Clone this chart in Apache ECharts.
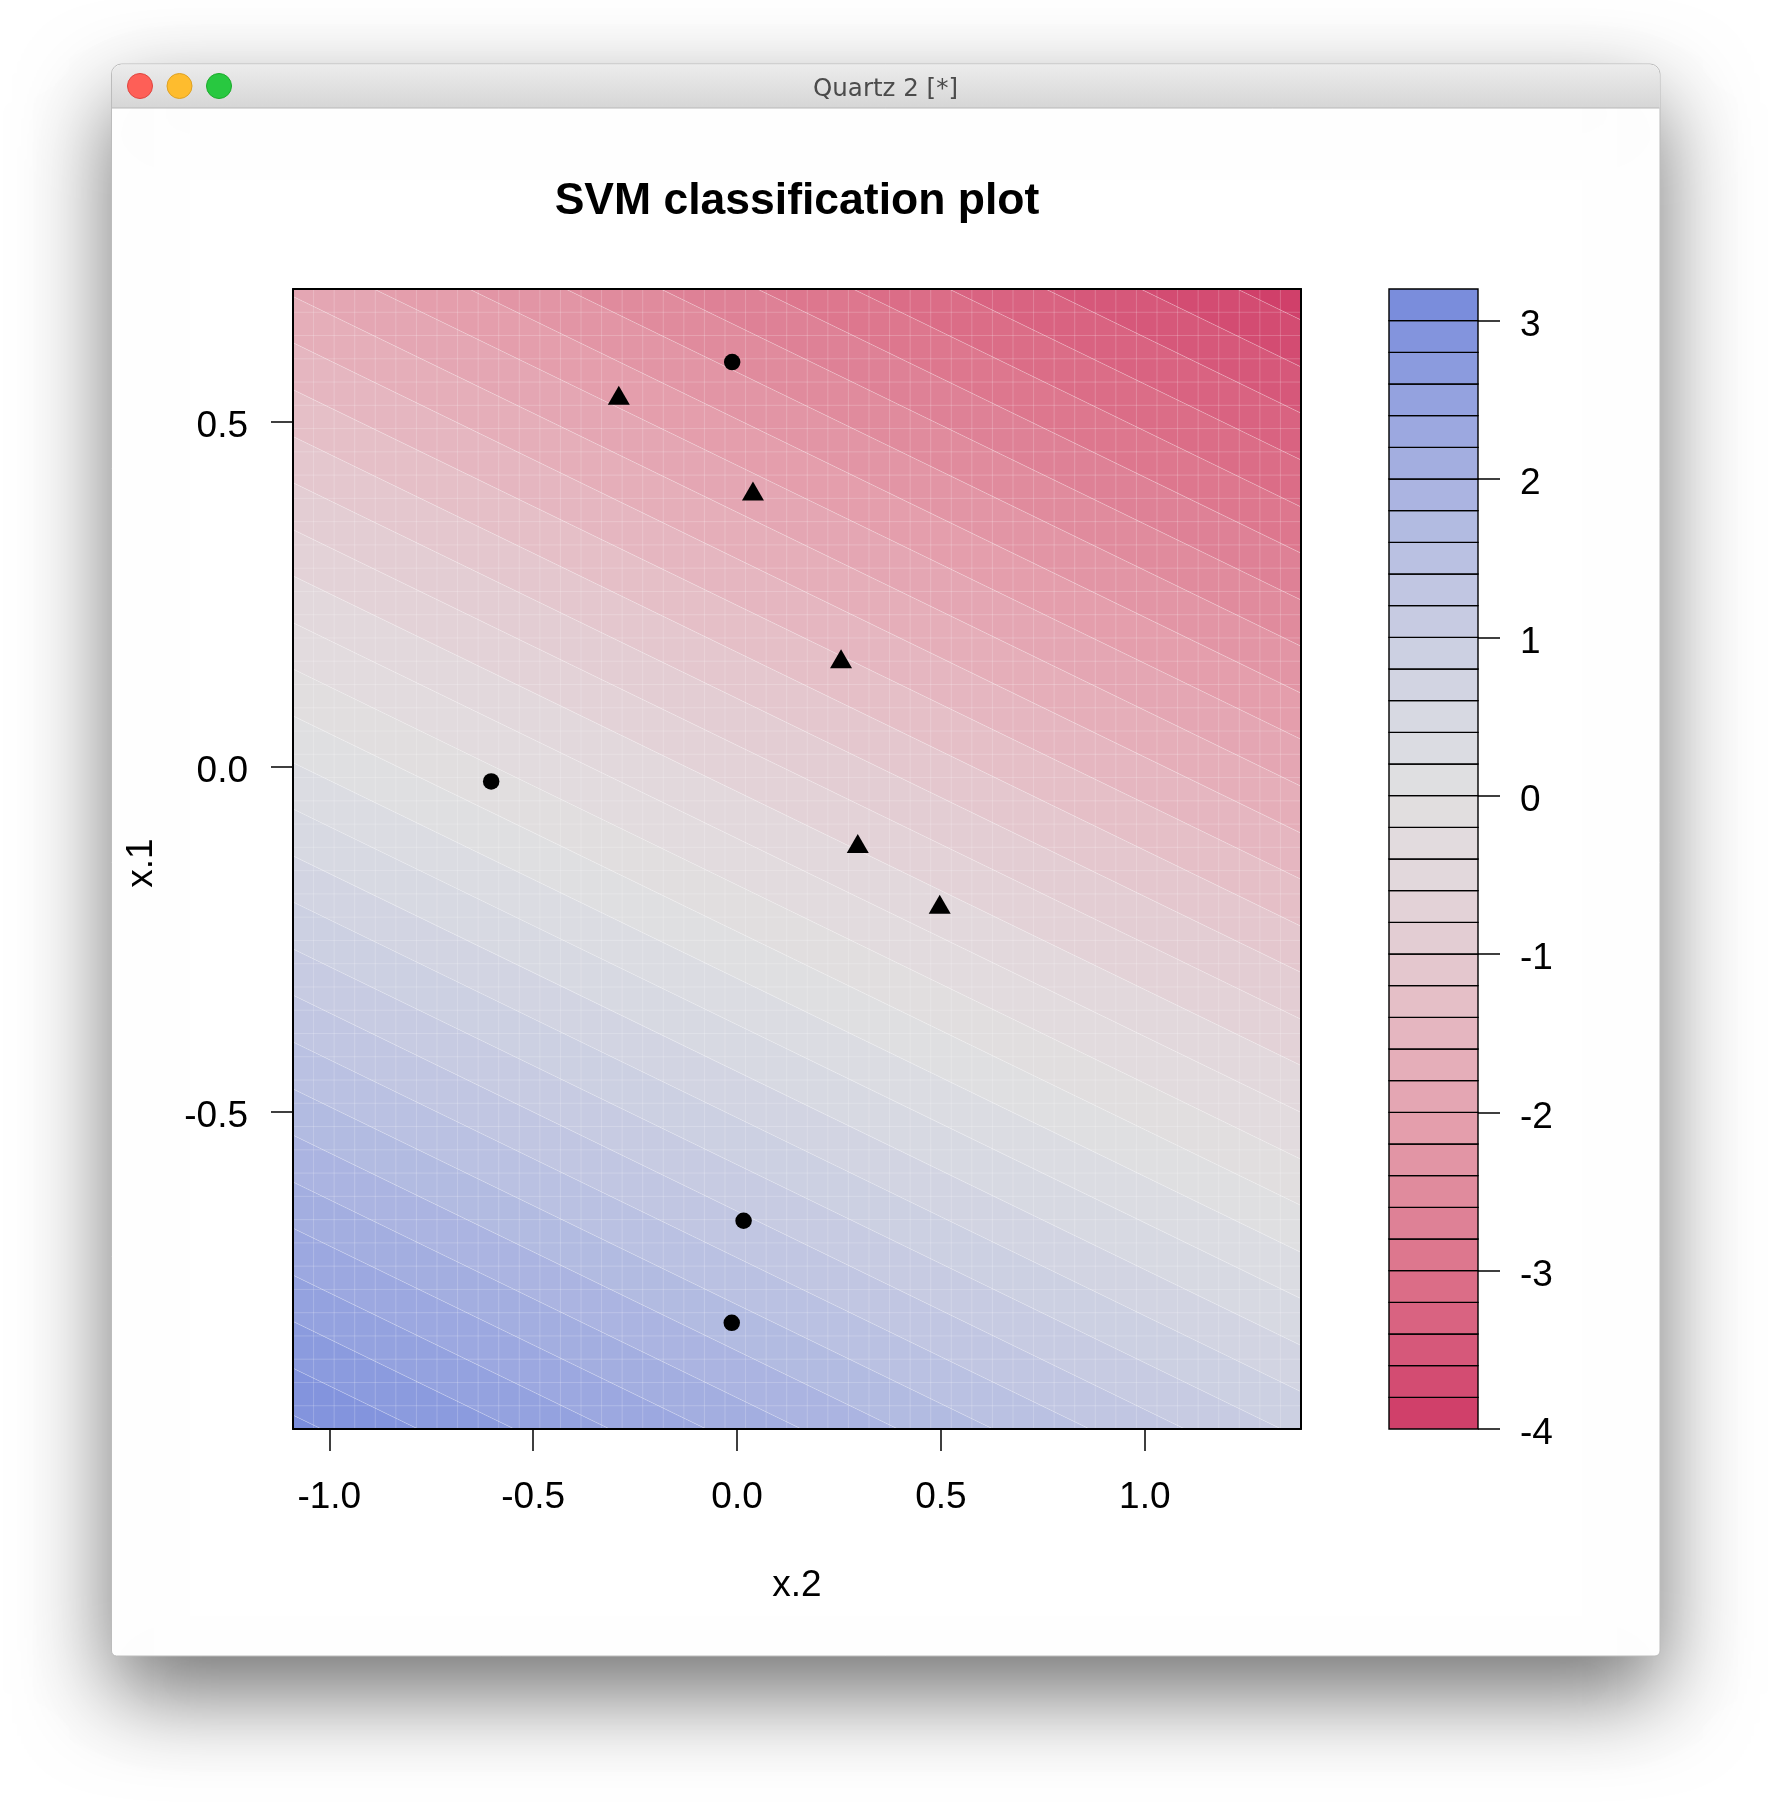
<!DOCTYPE html>
<html>
<head>
<meta charset="utf-8">
<title>SVM classification plot</title>
<script src="https://cdn.jsdelivr.net/npm/echarts@6.0.0/dist/echarts.min.js"></script>
<style>
  html, body { margin: 0; padding: 0; background: #ffffff; }
  #main { width: 1772px; height: 1816px; }
</style>
</head>
<body>
<div id="main"></div>
<script>
// plotted range of the two inputs (x.2 across, x.1 up) and the prediction grid
var x2Range = [-1.089, 1.383];
var x1Range = [-0.960, 0.693];
var gridSize = 50;

// decision value levels shown in the key
var levels = [-4.0, -3.8, -3.6, -3.4, -3.2, -3.0, -2.8, -2.6, -2.4, -2.2, -2.0, -1.8, -1.6, -1.4, -1.2,
  -1.0, -0.8, -0.6, -0.4, -0.2, 0.0, 0.2, 0.4, 0.6, 0.8, 1.0, 1.2, 1.4, 1.6, 1.8, 2.0, 2.2, 2.4,
  2.6, 2.8, 3.0, 3.2];
// x.1 where each level line meets the left edge / the right edge of the plot
var levelLeftX1 = [1.425, 1.358, 1.290, 1.223, 1.155, 1.088, 1.020, 0.952, 0.885, 0.817, 0.750, 0.682,
  0.615, 0.547, 0.479, 0.412, 0.344, 0.277, 0.209, 0.142, 0.074, 0.006, -0.061, -0.129, -0.196, -0.264,
  -0.331, -0.399, -0.467, -0.534, -0.602, -0.669, -0.737, -0.804, -0.872, -0.940, -1.007];
var levelRightX1 = [0.715, 0.648, 0.580, 0.513, 0.445, 0.377, 0.310, 0.242, 0.175, 0.107, 0.040, -0.028,
  -0.096, -0.163, -0.231, -0.298, -0.366, -0.433, -0.501, -0.569, -0.636, -0.704, -0.771, -0.839, -0.906,
  -0.974, -1.042, -1.109, -1.177, -1.244, -1.312, -1.379, -1.447, -1.515, -1.582, -1.650, -1.717];

// training points [x.2, x.1]
var circlePoints = [[-0.012, 0.587], [-0.603, -0.021], [0.016, -0.658], [-0.013, -0.806]];
var trianglePoints = [[-0.290, 0.539], [0.039, 0.400], [0.255, 0.157], [0.296, -0.111], [0.497, -0.199]];

var x2Ticks = [-1.0, -0.5, 0.0, 0.5, 1.0];
var x1Ticks = [-0.5, 0.0, 0.5];
var keyTicks = [-4, -3, -2, -1, 0, 1, 2, 3];

// red - grey - blue ramp
var colorStops = [
  [-3.9, [208, 64, 106]], [-3.5, [214, 88, 122]], [-3.1, [219, 109, 135]], [-2.5, [224, 139, 157]],
  [-2.1, [228, 158, 172]], [-1.5, [229, 182, 192]], [-1.1, [228, 199, 206]], [-0.5, [226, 216, 220]],
  [-0.1, [225, 222, 223]], [0.1, [223, 223, 225]], [0.5, [215, 217, 226]], [1.1, [199, 203, 226]],
  [1.5, [186, 193, 226]], [2.1, [163, 174, 224]], [2.5, [148, 162, 223]], [3.1, [122, 141, 220]]
];

function rampColor(v) {
  if (v <= colorStops[0][0]) return "rgb(" + colorStops[0][1].join(",") + ")";
  for (var i = 1; i < colorStops.length; i++) {
    if (v <= colorStops[i][0]) {
      var a = colorStops[i - 1], b = colorStops[i];
      var t = (v - a[0]) / (b[0] - a[0]);
      var c = [0, 1, 2].map(function (j) { return Math.round(a[1][j] + (b[1][j] - a[1][j]) * t); });
      return "rgb(" + c.join(",") + ")";
    }
  }
  return "rgb(" + colorStops[colorStops.length - 1][1].join(",") + ")";
}

function bandColor(k) {
  return rampColor((levels[k] + levels[k + 1]) / 2);
}

var bands = [];
for (var k = 0; k < levels.length - 1; k++) {
  bands.push([levels[k], levels[k + 1]]);
}

function clipRect(params) {
  var cs = params.coordSys;
  return { type: "rect", shape: { x: cs.x, y: cs.y, width: cs.width, height: cs.height } };
}

function renderBand(params, api) {
  var k = params.dataIndex;
  var pts = [
    api.coord([x2Range[0], levelLeftX1[k]]),
    api.coord([x2Range[1], levelRightX1[k]]),
    api.coord([x2Range[1], levelRightX1[k + 1]]),
    api.coord([x2Range[0], levelLeftX1[k + 1]])
  ];
  return {
    type: "polygon",
    shape: { points: pts },
    style: { fill: bandColor(k), stroke: "rgba(255,255,255,0.18)", lineWidth: 1 },
    clipPath: clipRect(params)
  };
}

// faint seams of the prediction grid cells
function renderSeams(params, api) {
  var children = [];
  var dx = (x2Range[1] - x2Range[0]) / (gridSize - 1);
  var dy = (x1Range[1] - x1Range[0]) / (gridSize - 1);
  for (var i = 1; i < gridSize - 1; i++) {
    var a = api.coord([x2Range[0] + i * dx, x1Range[0]]);
    var b = api.coord([x2Range[0] + i * dx, x1Range[1]]);
    children.push({ type: "line", shape: { x1: a[0], y1: a[1], x2: b[0], y2: b[1] },
      style: { stroke: "rgba(255,255,255,0.2)", lineWidth: 1 } });
    var c = api.coord([x2Range[0], x1Range[0] + i * dy]);
    var d = api.coord([x2Range[1], x1Range[0] + i * dy]);
    children.push({ type: "line", shape: { x1: c[0], y1: c[1], x2: d[0], y2: d[1] },
      style: { stroke: "rgba(255,255,255,0.2)", lineWidth: 1 } });
  }
  return { type: "group", children: children };
}

function renderKey(params, api) {
  var k = params.dataIndex;
  var top = api.coord([0, levels[k + 1]]);
  var bottom = api.coord([1, levels[k]]);
  return {
    type: "rect",
    shape: { x: top[0], y: top[1], width: bottom[0] - top[0], height: bottom[1] - top[1] },
    style: { fill: bandColor(k), stroke: "#000", lineWidth: 1.4 }
  };
}

var labelFont = { color: "#000", fontSize: 37, fontFamily: "Liberation Sans" };
// side labels sit a little low on their ticks, as in R
var sideRich = { v: { color: "#000", fontSize: 37, fontFamily: "Liberation Sans", padding: [10, 0, 0, 0] } };
var boxLine = { show: true, onZero: false, lineStyle: { color: "#000", width: 2 } };
var tickStyle = { color: "#000", width: 1.5 };

var myChart = echarts.init(document.getElementById("main"));
myChart.setOption({
  animation: false,
  backgroundColor: "#ffffff",
  graphic: {
    elements: [
      {
        type: "rect", z: -10,
        shape: { x: 111.5, y: 64, width: 1548.5, height: 1592, r: [10, 10, 5, 5] },
        style: { fill: "#ffffff", stroke: "#bcbcbc", lineWidth: 1,
          shadowBlur: 90, shadowOffsetY: 38, shadowColor: "rgba(0,0,0,0.55)" }
      },
      {
        type: "rect", z: -9,
        shape: { x: 112, y: 64.5, width: 1547.5, height: 43.5, r: [10, 10, 0, 0] },
        style: {
          fill: new echarts.graphic.LinearGradient(0, 0, 0, 1, [
            { offset: 0, color: "#ececec" }, { offset: 1, color: "#d6d6d6" }
          ])
        }
      },
      { type: "line", z: -9, shape: { x1: 112, y1: 108, x2: 1659.5, y2: 108 },
        style: { stroke: "#b8b8b8", lineWidth: 1 } },
      { type: "circle", z: -8, shape: { cx: 140, cy: 86, r: 12.5 },
        style: { fill: "#fe5f57", stroke: "#e0443e", lineWidth: 1 } },
      { type: "circle", z: -8, shape: { cx: 179.5, cy: 86, r: 12.5 },
        style: { fill: "#febc2e", stroke: "#dea123", lineWidth: 1 } },
      { type: "circle", z: -8, shape: { cx: 219, cy: 86, r: 12.5 },
        style: { fill: "#28c840", stroke: "#1aab29", lineWidth: 1 } },
      { type: "text", z: -8, x: 885.5, y: 89.5,
        style: { text: "Quartz 2 [*]", fill: "#4b4b4b", font: "24.5px 'DejaVu Sans'",
          textAlign: "center", textVerticalAlign: "middle" } },
      { type: "text", z: 20, x: 797, y: 202,
        style: { text: "SVM classification plot", fill: "#000", font: "bold 44.5px 'Liberation Sans'",
          textAlign: "center", textVerticalAlign: "middle" } },
      { type: "text", z: 20, x: 797, y: 1586,
        style: { text: "x.2", fill: "#000", font: "37px 'Liberation Sans'",
          textAlign: "center", textVerticalAlign: "middle" } },
      { type: "text", z: 20, x: 142, y: 863, rotation: Math.PI / 2,
        style: { text: "x.1", fill: "#000", font: "37px 'Liberation Sans'",
          textAlign: "center", textVerticalAlign: "middle" } }
    ]
  },
  grid: [
    { left: 293, top: 289, width: 1008, height: 1140 },
    { left: 1389, top: 289, width: 89, height: 1140 }
  ],
  xAxis: [
    {
      type: "value", gridIndex: 0, position: "bottom", min: x2Range[0], max: x2Range[1], z: 10,
      axisLine: boxLine,
      axisTick: { show: true, length: 22, customValues: x2Ticks, lineStyle: tickStyle },
      axisLabel: Object.assign({ margin: 50, customValues: x2Ticks,
        formatter: function (v) { return v.toFixed(1); } }, labelFont),
      splitLine: { show: false }
    },
    {
      type: "value", gridIndex: 0, position: "top", min: x2Range[0], max: x2Range[1], z: 10,
      axisLine: boxLine,
      axisTick: { show: false }, axisLabel: { show: false }, splitLine: { show: false }
    },
    {
      type: "value", gridIndex: 1, min: 0, max: 1, show: false
    }
  ],
  yAxis: [
    {
      type: "value", gridIndex: 0, position: "left", min: x1Range[0], max: x1Range[1], z: 10,
      axisLine: boxLine,
      axisTick: { show: true, length: 22, customValues: x1Ticks, lineStyle: tickStyle },
      axisLabel: { margin: 45, customValues: x1Ticks, rich: sideRich,
        formatter: function (v) { return "{v|" + v.toFixed(1) + "}"; } },
      splitLine: { show: false }
    },
    {
      type: "value", gridIndex: 0, position: "right", min: x1Range[0], max: x1Range[1], z: 10,
      axisLine: boxLine,
      axisTick: { show: false }, axisLabel: { show: false }, splitLine: { show: false }
    },
    {
      type: "value", gridIndex: 1, position: "right", min: levels[0], max: levels[levels.length - 1], z: 10,
      axisLine: { show: false, onZero: false },
      axisTick: { show: true, length: 22, customValues: keyTicks, lineStyle: tickStyle },
      axisLabel: { margin: 42, customValues: keyTicks, rich: sideRich,
        formatter: function (v) { return "{v|" + String(v) + "}"; } },
      splitLine: { show: false }
    }
  ],
  series: [
    {
      name: "decision value", type: "custom", xAxisIndex: 0, yAxisIndex: 0,
      renderItem: renderBand, data: bands, silent: true, z: 2
    },
    {
      name: "grid", type: "custom", xAxisIndex: 0, yAxisIndex: 0,
      renderItem: renderSeams, data: [[0, 0]], silent: true, z: 3
    },
    {
      name: "circle", type: "scatter", xAxisIndex: 0, yAxisIndex: 0,
      symbol: "circle", symbolSize: 16.5, data: circlePoints, z: 5,
      itemStyle: { color: "#000", opacity: 1 }
    },
    {
      name: "triangle", type: "scatter", xAxisIndex: 0, yAxisIndex: 0,
      symbol: "triangle", symbolSize: [22, 19], data: trianglePoints, z: 5,
      itemStyle: { color: "#000", opacity: 1 }
    },
    {
      name: "key", type: "custom", xAxisIndex: 2, yAxisIndex: 2,
      renderItem: renderKey, data: bands, silent: true, z: 2
    }
  ]
});
</script>
</body>
</html>
